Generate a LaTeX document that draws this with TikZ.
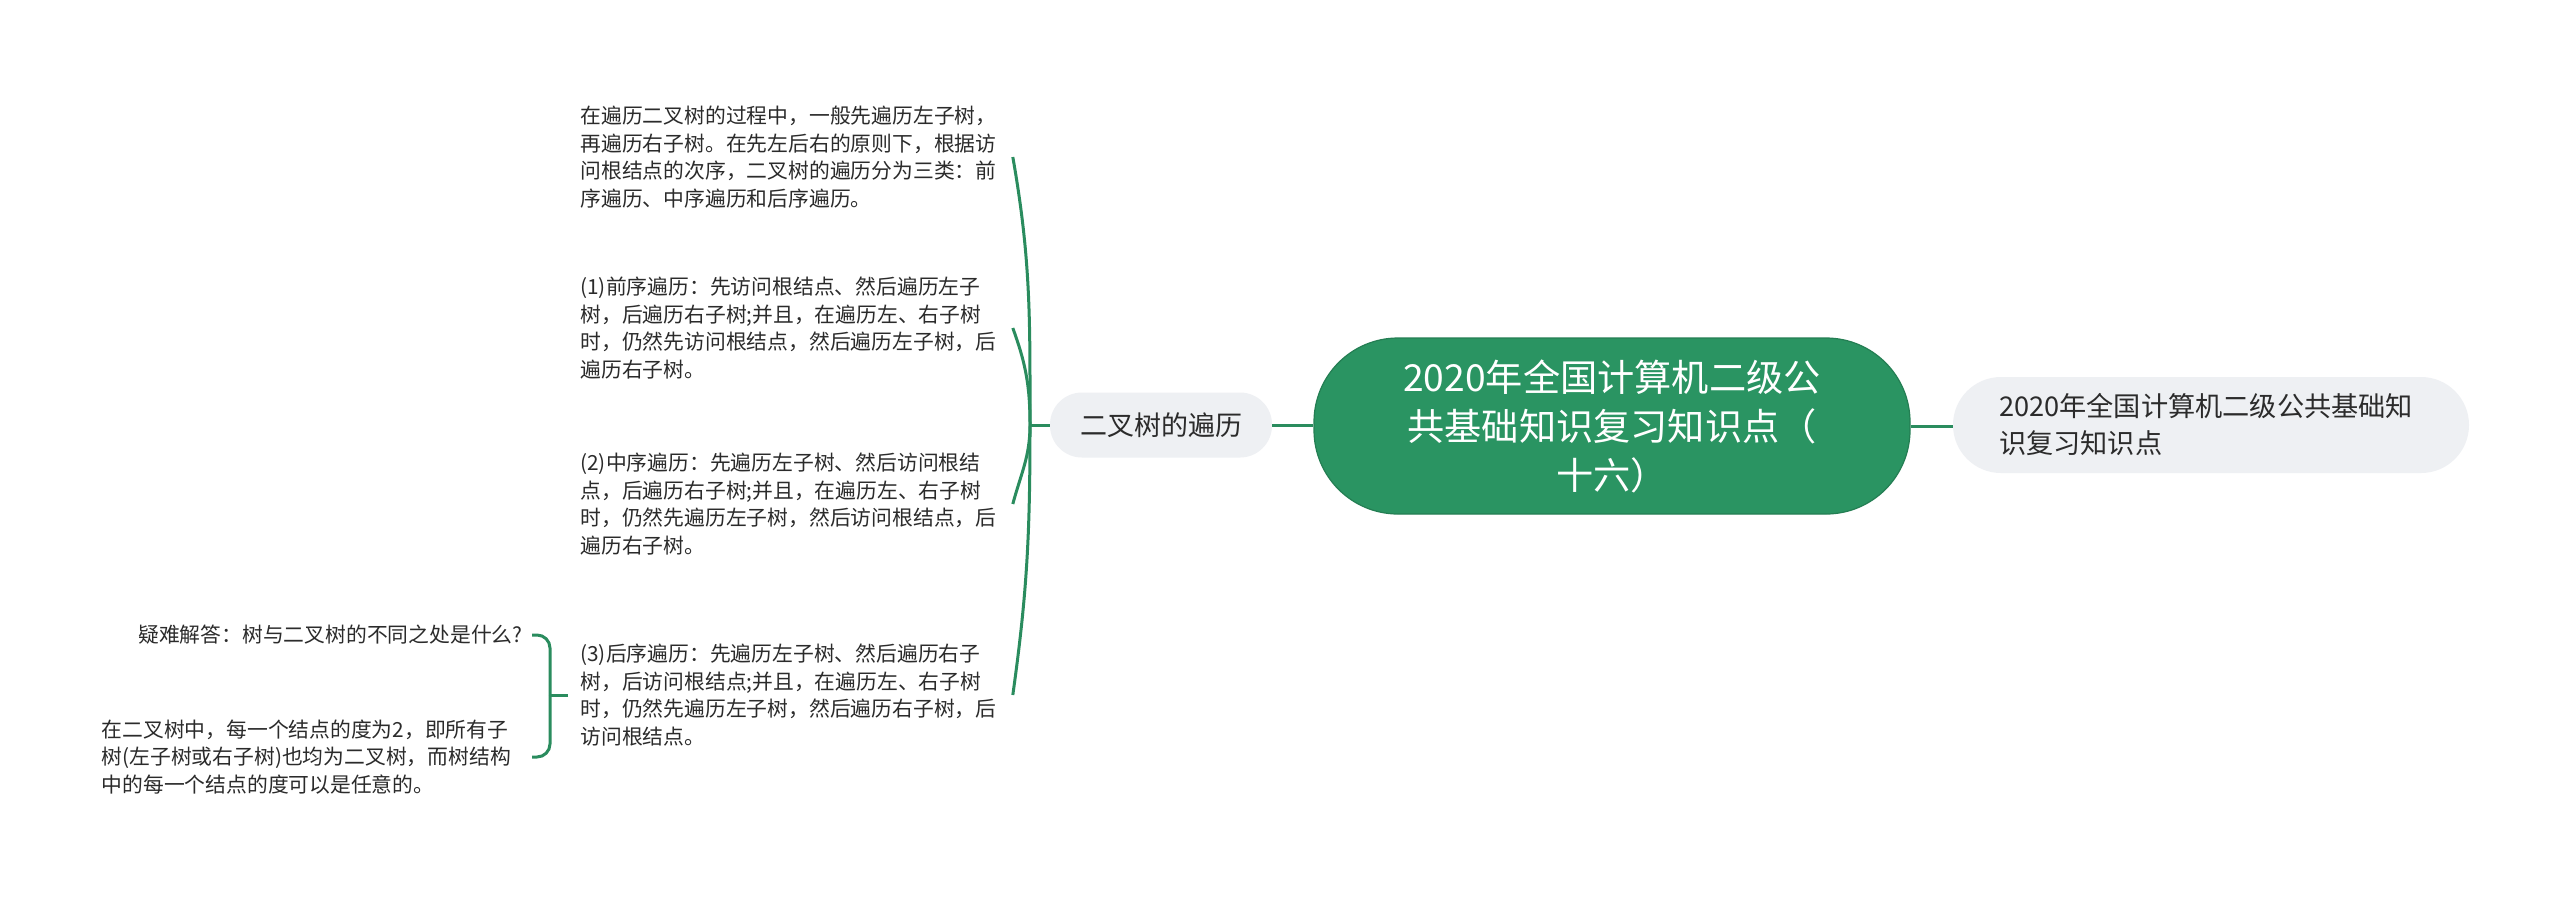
\documentclass[tikz,border=0pt]{standalone}
\usepackage{fontspec}
\setmainfont{Noto Sans CJK SC}
\definecolor{mgreen}{HTML}{2A9462}
\definecolor{lgreen}{HTML}{2A8C5E}
\definecolor{pill}{HTML}{EEF0F3}
\definecolor{ink}{HTML}{2B2B2B}
\tikzset{
  conn/.style={draw=lgreen, line width=1.5pt},
  leaf/.style={anchor=west, text width=210pt, inner xsep=6pt, inner ysep=0pt, align=left,
     text=ink, font=\fontsize{10.4pt}{13.8pt}\selectfont},
  topic/.style={fill=pill, rounded corners=16pt, text=ink},
}
\begin{document}
\begin{tikzpicture}[x=0.5pt,y=0.5pt]
\useasboundingbox (0,0) rectangle (2560,-896);
\fill[white] (0,0) rectangle (2560,-896);
% central
\node[fill=mgreen, draw=mgreen!85!black, line width=0.6pt, rounded corners=42pt,
  minimum width=298pt, minimum height=88pt, text width=230pt, align=center,
  text=white, font=\fontsize{18.6pt}{24.5pt}\selectfont] (c) at (1612,-426)
  {2020年全国计算机二级公\\共基础知识复习知识点（\\十六）};
% right
\node[topic, rounded corners=24pt, minimum width=258pt, minimum height=48pt,
  text width=212pt, inner xsep=23pt, align=left,
  font=\fontsize{13.6pt}{18.5pt}\selectfont] (r) at (2211,-425)
  {2020年全国计算机二级公共基础知\\识复习知识点};
% left topic
\node[topic, minimum width=111pt, minimum height=32.5pt,
  font=\fontsize{13.5pt}{16pt}\selectfont] (t) at (1161,-425) {二叉树的遍历};
% leaves
\node[leaf] (l1) at (568,-157) {在遍历二叉树的过程中，一般先遍历左子树，\\再遍历右子树。在先左后右的原则下，根据访\\问根结点的次序，二叉树的遍历分为三类：前\\序遍历、中序遍历和后序遍历。};
\node[leaf] (l2) at (568,-328) {(1)前序遍历：先访问根结点、然后遍历左子\\树，后遍历右子树;并且，在遍历左、右子树\\时，仍然先访问根结点，然后遍历左子树，后\\遍历右子树。};
\node[leaf] (l3) at (568,-504) {(2)中序遍历：先遍历左子树、然后访问根结\\点，后遍历右子树;并且，在遍历左、右子树\\时，仍然先遍历左子树，然后访问根结点，后\\遍历右子树。};
\node[leaf] (l4) at (568,-695) {(3)后序遍历：先遍历左子树、然后遍历右子\\树，后访问根结点;并且，在遍历左、右子树\\时，仍然先遍历左子树，然后遍历右子树，后\\访问根结点。};
% sub children
\node[anchor=east, inner xsep=4.5pt, inner ysep=0pt, text=ink,
  font=\fontsize{10.4pt}{13.8pt}\selectfont] (qa) at (532,-635) {疑难解答：树与二叉树的不同之处是什么?};
\node[leaf, anchor=east, inner xsep=5pt] (qb) at (532,-757) {在二叉树中，每一个结点的度为2，即所有子\\树(左子树或右子树)也均为二叉树，而树结构\\中的每一个结点的度可以是任意的。};
% connectors
\draw[conn] (t.east) -- (t.east -| c.west);
\draw[conn] (c.east) -- (r.west |- c.east);
\coordinate (j) at (1030,-425);
\draw[conn] (t.west) -- (j);
\draw[conn] (j) to[out=90,in=-80] (l1.east);
\draw[conn] (j) to[out=90,in=-70] (l2.east);
\draw[conn] (j) to[out=-90,in=75] (l3.east);
\draw[conn] (j) to[out=-90,in=82] (l4.east);
\coordinate (j2) at (550,-695);
\draw[conn] (l4.west) -- (j2);
\draw[conn, rounded corners=6.5pt] (j2) |- (qa.east);
\draw[conn, rounded corners=6.5pt] (j2) |- (qb.east);
\end{tikzpicture}
\end{document}
